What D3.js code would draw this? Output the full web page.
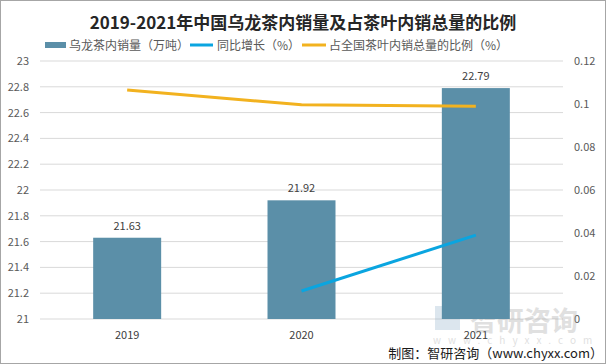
<!DOCTYPE html>
<html><head><meta charset="utf-8">
<script src="https://cdn.jsdelivr.net/npm/d3@7"></script>
<style>
body{margin:0;background:#fff;}
svg{display:block;font-family:"Noto Sans CJK SC","Noto Sans",sans-serif;}
</style></head>
<body><svg id="c" width="606" height="364"></svg>
<script>
const categories = ["2019","2020","2021"];
const volume = [21.63, 21.92, 22.79];
const growth = [null, 0.013, 0.039];
const share = [0.1065, 0.0996, 0.0990];
const leftTicks = [21,21.2,21.4,21.6,21.8,22,22.2,22.4,22.6,22.8,23];
const rightTicks = [0,0.02,0.04,0.06,0.08,0.1,0.12];
const title = "2019-2021年中国乌龙茶内销量及占茶叶内销总量的比例";
const legendNames = ["乌龙茶内销量（万吨）","同比增长（%）","占全国茶叶内销总量的比例（%）"];
const colors = ["#5b8fa8","#0aa5e0","#f2b21f"];

const svg = d3.select("#c");
svg.append("rect").attr("x",0.5).attr("y",0.5).attr("width",605).attr("height",363)
  .attr("fill","#fff").attr("stroke","#a6a6a6");

const L=40,R=563,T=61,B=319;
const x = d3.scaleBand().domain(categories).range([L,R]).paddingInner(0.61).paddingOuter(0.305);
const yL = d3.scaleLinear().domain([21,23]).range([B,T]);
const yR = d3.scaleLinear().domain([0,0.12]).range([B,T]);

// grid
svg.append("g").selectAll("line").data(leftTicks).join("line")
  .attr("x1",L).attr("x2",R).attr("y1",d=>yL(d)).attr("y2",d=>yL(d))
  .attr("stroke","#d9d9d9").attr("stroke-width",1);

// left axis
const gl = svg.append("g").attr("transform",`translate(${L-8},0)`)
  .call(d3.axisLeft(yL).tickValues(leftTicks).tickSize(0).tickFormat(d=>String(+d.toFixed(1))));
gl.select(".domain").remove();
gl.selectAll("text").attr("fill","#595959").style("font-size","11px").style("font-family","'Noto Sans CJK SC',sans-serif");

// right axis
const gr = svg.append("g").attr("transform",`translate(${R+8},0)`)
  .call(d3.axisRight(yR).tickValues(rightTicks).tickSize(0).tickFormat(d=>String(+d.toFixed(2))));
gr.select(".domain").remove();
gr.selectAll("text").attr("fill","#595959").style("font-size","11px").style("font-family","'Noto Sans CJK SC',sans-serif");

// x axis
const gx = svg.append("g").attr("transform",`translate(0,${B+9})`)
  .call(d3.axisBottom(x).tickSize(0));
gx.select(".domain").remove();
gx.selectAll("text").attr("fill","#404040").style("font-size","11px").style("font-family","'Noto Sans CJK SC',sans-serif");

// watermark
const wm = svg.append("g").attr("opacity",0.3);
wm.append("text").attr("x",470).attr("y",331).attr("fill","#9a9a9a")
  .style("font-size","27px").style("font-weight","bold").text("智研咨询");
wm.append("rect").attr("x",435).attr("y",306).attr("width",25).attr("height",24).attr("fill","#8fb0c8");
wm.append("text").attr("x",433).attr("y",344).attr("fill","#9a9a9a")
  .style("font-size","10px").style("letter-spacing","7px").text("www.chyxx.com");

// bars
svg.append("g").selectAll("rect").data(categories).join("rect")
  .attr("x",d=>x(d)).attr("width",x.bandwidth())
  .attr("y",(d,i)=>yL(volume[i])).attr("height",(d,i)=>B-yL(volume[i]))
  .attr("fill",colors[0]);
svg.append("g").selectAll("text").data(categories).join("text")
  .attr("x",d=>x(d)+x.bandwidth()/2).attr("y",(d,i)=>yL(volume[i])-8)
  .attr("text-anchor","middle").attr("fill","#404040").style("font-size","11px")
  .text((d,i)=>volume[i].toFixed(2));

// lines
const cx = d=>x(d)+x.bandwidth()/2;
const lineG = d3.line().defined(d=>d[1]!=null).x(d=>cx(d[0])).y(d=>yR(d[1]));
svg.append("path").datum(categories.map((c,i)=>[c,share[i]])).attr("d",lineG)
  .attr("fill","none").attr("stroke",colors[2]).attr("stroke-width",3);
svg.append("path").datum(categories.map((c,i)=>[c,growth[i]])).attr("d",lineG)
  .attr("fill","none").attr("stroke",colors[1]).attr("stroke-width",3);

// title
svg.append("text").attr("x",303).attr("y",29).attr("text-anchor","middle")
  .attr("fill","#262626").style("font-size","17px").style("font-weight","bold").text(title);

// legend
const lg = svg.append("g").style("font-size","12px");
const lx = [45,190,302];
lg.append("rect").attr("x",lx[0]).attr("y",42).attr("width",21).attr("height",6).attr("fill",colors[0]);
lg.append("line").attr("x1",lx[1]).attr("x2",lx[1]+23).attr("y1",45).attr("y2",45).attr("stroke",colors[1]).attr("stroke-width",3);
lg.append("line").attr("x1",lx[2]).attr("x2",lx[2]+24).attr("y1",45).attr("y2",45).attr("stroke",colors[2]).attr("stroke-width",3);
legendNames.forEach((n,i)=>{
  lg.append("text").attr("x",lx[i]+(i==0?24:27)).attr("y",49.5).attr("fill","#595959").text(n);
});

// footer
svg.append("text").attr("x",603).attr("y",358).attr("text-anchor","end").attr("fill","#1a1a1a")
  .style("font-size","13px").text("制图：智研咨询（www.chyxx.com）");
</script></body></html>
